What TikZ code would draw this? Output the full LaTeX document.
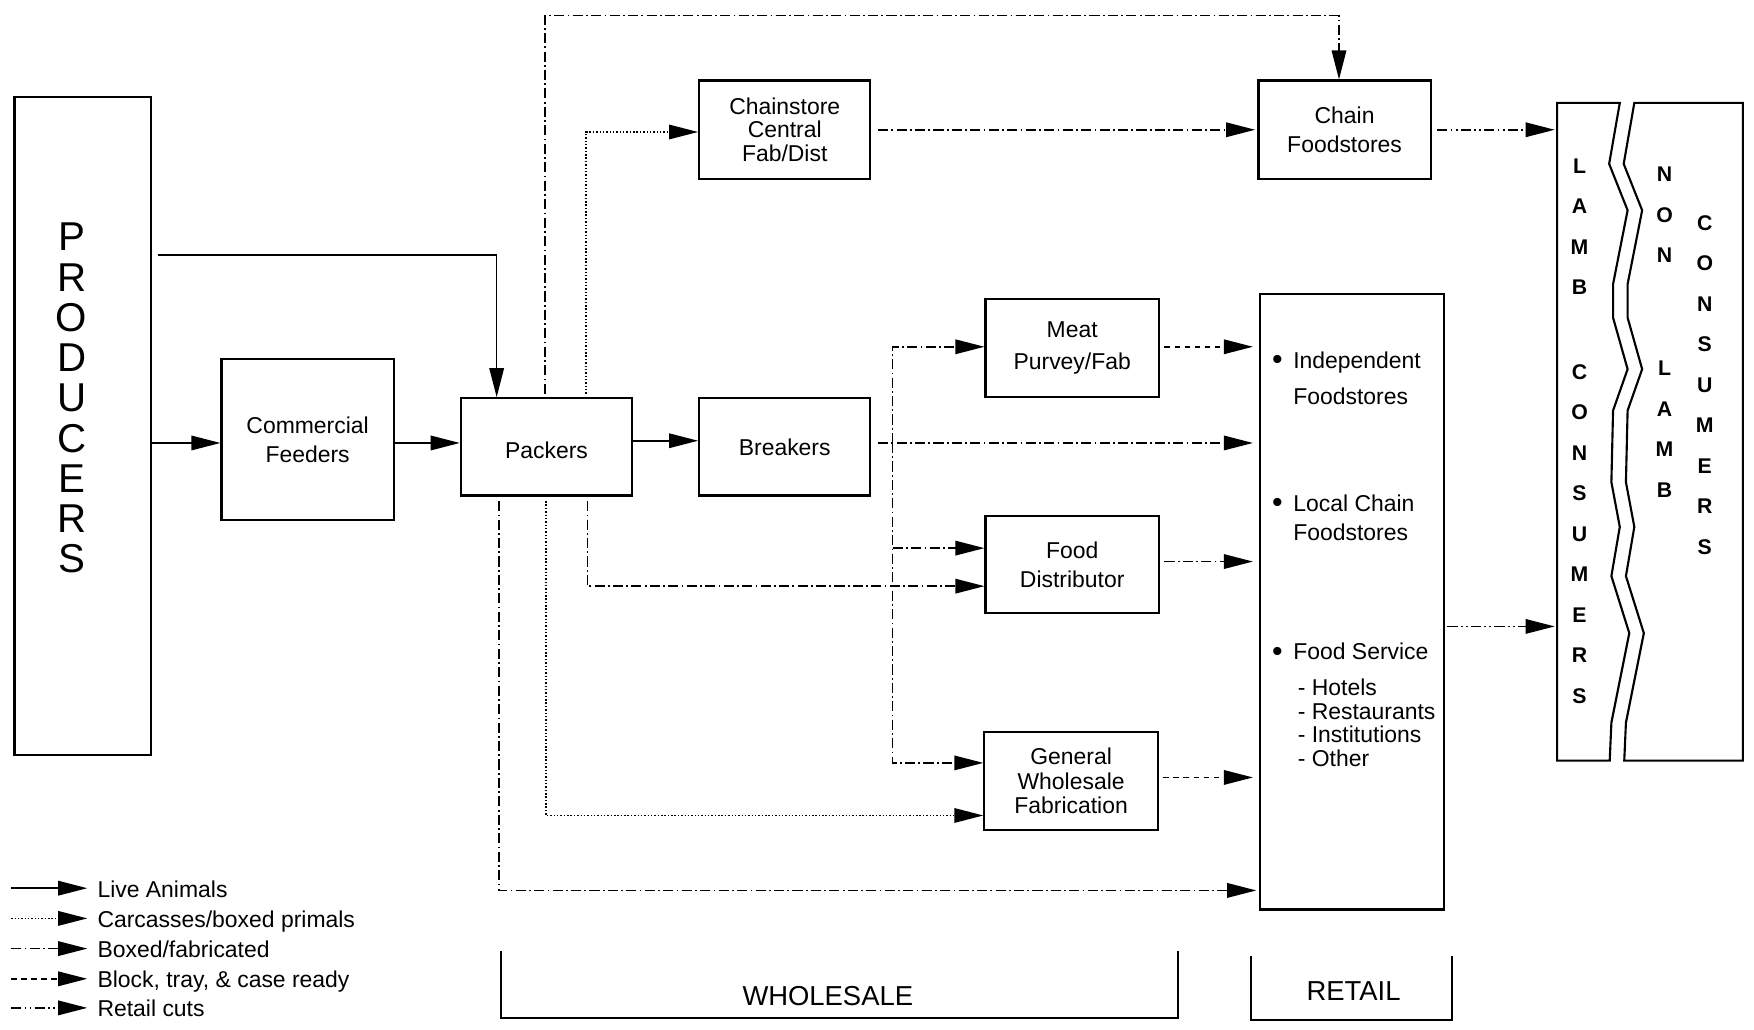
\documentclass[tikz,border=0pt]{standalone}
\usepackage{fontspec}
\setmainfont{Liberation Sans}
\usetikzlibrary{arrows.meta}
\newcommand{\bigbul}{\makebox[19pt][l]{\raisebox{-1pt}{\fontsize{27}{27}\selectfont •}}}
\begin{document}
\begin{tikzpicture}[x=1pt,y=-1pt,
  box/.style={draw, line width=1.9pt, inner sep=0pt, align=center, font=\fontsize{20.5}{26}\selectfont},
  conn/.style={line width=1.4pt, -{Triangle[length=26pt,width=13pt]}},
  live/.style={conn},
  carc/.style={conn, dash pattern=on 1.3pt off 1.7pt},
  boxedfab/.style={conn, dash pattern=on 9pt off 3pt on 1.5pt off 3pt},
  block/.style={conn, dash pattern=on 5pt off 4pt},
  retailcut/.style={conn, dash pattern=on 9pt off 3pt on 1.5pt off 3pt on 1.5pt off 3pt},
  txt/.style={inner sep=0pt, font=\fontsize{20.5}{26}\selectfont},
  letters/.style={inner sep=0pt, align=center, font=\fontsize{19}{36.2}\selectfont\bfseries},
  outline/.style={line width=1.9pt, line join=miter},
  bracket/.style={line width=1.6pt},
]
\useasboundingbox (0,0) rectangle (1568,920);

% ---------- boxes ----------
\node[box, minimum width=122pt, minimum height=588pt] (prod) at (74,381) {};
\node[inner sep=0pt, align=center, font=\fontsize{36}{36}\selectfont] (prodtxt) at (64,356) {P\\R\\O\\D\\U\\C\\E\\R\\S};
\node[box, minimum width=154pt, minimum height=144pt] (feed) at (275,393) {Commercial\\Feeders};
\node[box, minimum width=153pt, minimum height=87pt, text height=21pt] (pack) at (488.5,399.5) {Packers};
\node[box, minimum width=153pt, minimum height=87pt] (brk) at (701.5,399.5) {Breakers};
\node[box, minimum width=153pt, minimum height=88pt, font=\fontsize{20.5}{21}\selectfont] (cs) at (701.5,116) {Chainstore\\Central\\Fab/Dist};
\node[box, minimum width=154pt, minimum height=88pt] (chain) at (1202,116) {Chain\\Foodstores};
\node[box, minimum width=155pt, minimum height=88pt, font=\fontsize{20.5}{29}\selectfont] (meat) at (958.5,311) {Meat\\Purvey/Fab};
\node[box, minimum width=155pt, minimum height=87pt] (fd) at (958.5,504.5) {Food\\Distributor};
\node[box, minimum width=155pt, minimum height=88pt, font=\fontsize{20.5}{22}\selectfont] (gw) at (957.5,698) {General\\Wholesale\\Fabrication};
\node[box, minimum width=165pt, minimum height=550pt] (retail) at (1208.5,538) {};

% retail contents
\node[txt, anchor=base west] (r1) at (1137,329) {\bigbul Independent};
\node[txt, anchor=base west] (r2) at (1156,362) {Foodstores};
\node[txt, anchor=base west] (r3) at (1137,457) {\bigbul Local Chain};
\node[txt, anchor=base west] (r4) at (1156,483) {Foodstores};
\node[txt, anchor=base west] (r5) at (1137,590) {\bigbul Food Service};
\node[txt, anchor=base west] (r6) at (1160,622) {- Hotels};
\node[txt, anchor=base west] (r7) at (1160,643) {- Restaurants};
\node[txt, anchor=base west] (r8) at (1160,664) {- Institutions};
\node[txt, anchor=base west] (r9) at (1160,685) {- Other};

% ---------- consumers ----------
\node[minimum width=166pt, minimum height=588pt, inner sep=0pt] (cons) at (1475,386) {};
\draw[outline] (1392,92) -- (1448,92) -- (1438.5,146.5) -- (1455,188) -- (1442,254) -- (1442,284)
  -- (1455,330) -- (1442,367) -- (1440.5,431) -- (1448,471) -- (1440.5,515) -- (1456.5,566)
  -- (1440.5,646) -- (1439,680) -- (1392,680) -- cycle;
\draw[outline] (1461,92) -- (1558,92) -- (1558,680) -- (1452,680) -- (1453.5,646) -- (1469.5,566)
  -- (1453.5,515) -- (1461,471) -- (1453.5,431) -- (1455,367) -- (1468,330) -- (1455,284)
  -- (1455,254) -- (1468,188) -- (1451.5,146.5) -- cycle;
\node[letters] (lamb) at (1412,202.5) {L\\A\\M\\B};
\node[letters] (lcons) at (1412,477.5) {C\\O\\N\\S\\U\\M\\E\\R\\S};
\node[letters] (non) at (1488,192) {N\\O\\N};
\node[letters] (nlamb) at (1488,383.5) {L\\A\\M\\B};
\node[letters] (ncons) at (1524,344) {C\\O\\N\\S\\U\\M\\E\\R\\S};

% ---------- routing coordinates ----------
\coordinate (yA) at (0,396);
\coordinate (pA) at (444,228);
\coordinate (t1) at (487,14);
\coordinate (t2) at (1197,14);
\coordinate (c1) at (524,118);
\coordinate (yCS) at (0,116);
\coordinate (yPB) at (0,394);
\coordinate (yBR) at (0,396);
\coordinate (b1) at (798,310);
\coordinate (bm) at (798,396);
\coordinate (b490) at (798,490);
\coordinate (b2) at (798,682);
\coordinate (yMR) at (0,310);
\coordinate (yFR) at (0,502);
\coordinate (yGR) at (0,695);
\coordinate (d1) at (525,524);
\coordinate (d2) at (488,729);
\coordinate (d3) at (446,796);
\coordinate (yRC) at (0,560);

% ---------- connectors ----------
\draw[live] (prod.east |- yA) -- (feed.west |- yA);
\draw[live] (feed.east |- yA) -- (pack.west |- yA);
\draw[live] ([xshift=5pt]prod.east |- pA) -- (pA) -- (pA |- pack.north);
\draw[live] (pack.east |- yPB) -- (brk.west |- yPB);
\draw[boxedfab, shorten <=3pt] (t1 |- pack.north) -- (t1) -- (t2) -- (t2 |- chain.north);
\draw[carc, shorten <=3pt] (c1 |- pack.north) -- (c1) -- (cs.west |- c1);
\draw[boxedfab, shorten <=6pt, shorten >=2pt] (cs.east |- yCS) -- (chain.west |- yCS);
\draw[retailcut, shorten <=5pt, shorten >=2pt] (chain.east |- yCS) -- (cons.west |- yCS);
\draw[boxedfab, shorten <=6pt, shorten >=5pt] (brk.east |- yBR) -- (retail.west |- yBR);
\draw[boxedfab] (bm) |- (meat.west |- b1);
\draw[boxedfab] (bm) |- (gw.west |- b2);
\draw[boxedfab] (b490) -- (fd.west |- b490);
\draw[block, shorten <=4pt, shorten >=5pt] (meat.east |- yMR) -- (retail.west |- yMR);
\draw[boxedfab, shorten <=4pt, shorten >=5pt] (fd.east |- yFR) -- (retail.west |- yFR);
\draw[block, shorten <=4pt, shorten >=5pt] (gw.east |- yGR) -- (retail.west |- yGR);
\draw[boxedfab, shorten <=4pt] (d1 |- pack.south) -- (d1) -- (fd.west |- d1);
\draw[carc, shorten <=4pt] (d2 |- pack.south) -- (d2) -- (gw.west |- d2);
\draw[boxedfab, shorten <=4pt, shorten >=2pt] (d3 |- pack.south) -- (d3) -- (retail.west |- d3);
\draw[retailcut, shorten <=2pt, shorten >=2pt] (retail.east |- yRC) -- (cons.west |- yRC);

% ---------- legend ----------
\coordinate (ls1) at (10,794); \coordinate (ls2) at (10,821); \coordinate (ls3) at (10,848);
\coordinate (ls4) at (10,875); \coordinate (ls5) at (10,901);
\node[txt, anchor=base west] (lg1) at (87,802) {Live Animals};
\node[txt, anchor=base west] (lg2) at (87,829) {Carcasses/boxed primals};
\node[txt, anchor=base west] (lg3) at (87,856) {Boxed/fabricated};
\node[txt, anchor=base west] (lg4) at (87,883) {Block, tray, \& case ready};
\node[txt, anchor=base west] (lg5) at (87,909) {Retail cuts};
\draw[live, shorten >=9pt] (ls1) -- (lg1.west |- ls1);
\draw[carc, shorten >=9pt] (ls2) -- (lg2.west |- ls2);
\draw[boxedfab, shorten >=9pt] (ls3) -- (lg3.west |- ls3);
\draw[block, shorten >=9pt] (ls4) -- (lg4.west |- ls4);
\draw[retailcut, shorten >=9pt] (ls5) -- (lg5.west |- ls5);

% ---------- brackets ----------
\draw[bracket] (448,850) |- (1053,910) -- (1053,850);
\node[inner sep=0pt, font=\fontsize{24.5}{28}\selectfont] (wh) at (740,890) {WHOLESALE};
\draw[bracket] (1118,855) |- (1298,912) -- (1298,855);
\node[inner sep=0pt, font=\fontsize{24.5}{28}\selectfont] (rt) at (1210,886) {RETAIL};
\end{tikzpicture}
\end{document}
